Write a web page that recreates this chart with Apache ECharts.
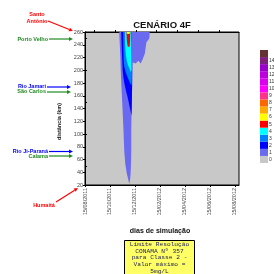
<!DOCTYPE html>
<html><head><meta charset="utf-8">
<script src="https://cdn.jsdelivr.net/npm/echarts@6/dist/echarts.min.js"></script>
<style>html,body{margin:0;padding:0;background:#fff}#c{width:274px;height:274px}</style>
</head><body><div id="c"></div>
<script>
// ---- data (x = days since 15/08/2011, y = distância km) ----
const dateLabels = ['15/08/2011','15/10/2011','15/12/2011','15/02/2012','15/04/2012','15/06/2012','15/08/2012'];
const colorLevels = [0,1,2,3,4,5,6,7,8,9,10,11,12,13,14,15];
const levelLabels = ['0','1','2','3','4','5','6','7','8','9','10','11','12','13','14',''];
const contourLevels = [1,2,3,4,5,6];
const contour1 = [[83.5,260],[86,225],[87.7,192],[91,148],[94,105],[95.8,74],[98.3,53],[102.4,37],[106,28],[108,21.5],[110,28],[111.3,37],[112.3,53],[113,74],[113,105],[114,148],[115.5,185],[116,200],[116.5,212],[124,210.5],[130,215],[136,210.5],[140,216],[146,226],[148,235],[150,244],[157,250],[158,260]];
const contour2 = [[88.4,260],[90,230],[92,200],[93.5,190],[96,180],[100,168],[104,158],[108,146],[111,137],[113.7,129],[114.3,145],[115,175],[115,200],[114.5,225],[113.6,260]];
const contour3 = [[93.3,260],[93.6,235],[94.5,215],[96,205],[99,198],[102,192],[106,186],[110,180],[113.5,176],[114.5,190],[114,215],[113.4,240],[113.2,260]];
const contour4 = [[97.5,260],[98,240],[99.5,225],[102,215],[105,208],[109,202],[112,197],[113.7,200],[113.6,220],[112.8,260]];
const contour5 = [[101.3,260],[101.8,250],[103,242],[104.5,237],[109,237],[110,245],[110.5,260]];
const contour6 = [[102,260],[102.3,258],[104,257],[108,257],[109.5,258.5],[110,260]];
const contours = [contour1, contour2, contour3, contour4, contour5, contour6];
const stationNames = ['Santo\nAntônio','Porto Velho','Rio Jamari','São Carlos','Rio Ji-Paraná','Calama','Humaitá'];
const noteLines = ['Limite Resolução','CONAMA Nº 357','para Classe 2 -','Valor máximo =','5mg/L'];

// ---- styles ----
const palette = ['#c8c8c8','#6a6af0','#0000ff','#0080ff','#00ffff','#ff0000','#ffff00','#ffaa00','#ff6600','#ff3388','#ff00ff','#dd00ee','#bb00dd','#9900cc','#7f1f7f','#663333'];
const stationColors = ['#ff0000','#1f8a1f','#0000ff','#1f8a1f','#0000ff','#1f8a1f','#ff0000'];

const chart = echarts.init(document.getElementById('c'), null, {renderer:'canvas'});
const seriesData = contours.map((c, i) => {
  const cx = c.reduce((s,p)=>s+p[0],0)/c.length, cy = c.reduce((s,p)=>s+p[1],0)/c.length;
  return [cx, cy, contourLevels[i]];
});

function arrow(x1,y1,x2,y2,color){
  const a = Math.atan2(y2-y1, x2-x1), L = 4, W = 2;
  const bx = x2 - L*Math.cos(a), by = y2 - L*Math.sin(a);
  return [
    {type:'line', silent:true, shape:{x1,y1,x2:bx,y2:by}, style:{stroke:color, lineWidth:1.2}},
    {type:'polygon', silent:true, shape:{points:[[x2,y2],[bx - W*Math.sin(a), by + W*Math.cos(a)],[bx + W*Math.sin(a), by - W*Math.cos(a)]]}, style:{fill:color}}
  ];
}
const lab = {fontFamily:'Liberation Sans, Arial', fontWeight:'bold', fontSize:5.5};
const stationLayout = [
  {tx:37, ty:17.5, align:'center', a:[48,21,73,31]},
  {tx:48, ty:39, align:'right', a:[49,39,73,39]},
  {tx:46, ty:86, align:'right', a:[47,87,71,87]},
  {tx:46, ty:91.5, align:'right', a:[47,92,71,92]},
  {tx:48, ty:151, align:'right', a:[49,151.5,73,151.5]},
  {tx:48, ty:156, align:'right', a:[49,156,73,156]},
  {tx:44, ty:205, align:'center', a:[56,202,78,188]}
];
const graphics = [];
stationNames.forEach((n,i)=>{
  const L = stationLayout[i];
  graphics.push({type:'text', silent:true, style:Object.assign({text:n, x:L.tx, y:L.ty, textAlign:L.align, textVerticalAlign:'middle', fill:stationColors[i], lineHeight:7}, lab)});
  arrow(...L.a, stationColors[i]).forEach(g=>graphics.push(g));
});
graphics.push({type:'text', silent:true, style:{text:'CENÁRIO 4F', x:162, y:25.5, textAlign:'center', textVerticalAlign:'middle', fontFamily:'Liberation Sans, Arial', fontWeight:'bold', fontSize:9.5, fill:'#111'}});
graphics.push({type:'text', silent:true, style:{text:'dias de simulação', x:160, y:231.5, textAlign:'center', textVerticalAlign:'middle', fontFamily:'Liberation Sans, Arial', fontWeight:'bold', fontSize:7, fill:'#111'}});
graphics.push({type:'text', silent:true, rotation:Math.PI/2, x:59.5, y:121.5, style:{text:'distância (km)', x:0, y:0, textAlign:'center', textVerticalAlign:'middle', fontFamily:'Liberation Sans, Arial', fontWeight:'bold', fontSize:5.5, fill:'#111'}});
graphics.push({type:'rect', silent:true, shape:{x:124.5, y:240.5, width:70, height:40}, style:{fill:'#ffff66', stroke:'#000', lineWidth:1}});
graphics.push({type:'text', silent:true, style:{text:noteLines.join('\n'), x:159.5, y:241.2, textAlign:'center', textVerticalAlign:'top', fontFamily:'Liberation Mono, Courier New, monospace', fontSize:6.2, lineHeight:6.6, fill:'#1a1a55'}});

const axLbl = {fontSize:5.5, color:'#444', fontFamily:'Liberation Sans, Arial'};
chart.setOption({
  animation:false,
  grid:[
    {left:85, top:32, width:154, height:153, show:true, backgroundColor:'#c8c8c8', borderColor:'#000', borderWidth:1, outerBoundsMode:'none', containLabel:false},
    {left:260, top:50, width:8, height:113, show:false, outerBoundsMode:'none', containLabel:false}
  ],
  xAxis:[
    {type:'value', gridIndex:0, min:0, max:376, interval:61, position:'bottom',
     axisLine:{lineStyle:{color:'#000', width:1}}, axisTick:{show:true, length:2, lineStyle:{color:'#000'}},
     splitLine:{show:false},
     axisLabel:Object.assign({rotate:90, margin:3, showMaxLabel:false, formatter:v => (v % 61 === 0 ? (dateLabels[v/61] || '') : '')}, axLbl)},
    {type:'value', gridIndex:0, min:0, max:376, position:'top',
     axisLine:{lineStyle:{color:'#000', width:1}}, axisTick:{show:true, length:2, customValues:[22,73,124,175,226,277,328], lineStyle:{color:'#000'}},
     axisLabel:{show:false}, splitLine:{show:false}},
    {type:'value', gridIndex:1, min:0, max:1, show:false}
  ],
  yAxis:[
    {type:'value', gridIndex:0, min:20, max:260, interval:20,
     axisLine:{show:true, lineStyle:{color:'#000', width:1}}, axisTick:{show:true, length:2, lineStyle:{color:'#000'}},
     splitLine:{show:false}, axisLabel:Object.assign({margin:2}, axLbl)},
    {type:'value', gridIndex:0, min:20, max:260, position:'right',
     axisLine:{show:true, lineStyle:{color:'#000', width:1}}, axisTick:{show:true, length:2, customValues:[50,100,150,200,250], lineStyle:{color:'#000'}},
     axisLabel:{show:false}, splitLine:{show:false}},
    {type:'category', gridIndex:1, position:'right', data:levelLabels,
     axisLine:{show:false}, axisTick:{show:false}, splitLine:{show:false},
     axisLabel:{interval:0, margin:1, fontSize:5, color:'#333', fontFamily:'Liberation Sans, Arial', padding:[2,0,0,0]}}
  ],
  series:[{
    type:'custom', coordinateSystem:'cartesian2d', xAxisIndex:0, yAxisIndex:0, silent:true, clip:true,
    data:seriesData,
    renderItem:(params, api) => {
      const pts = contours[params.dataIndex].map(p => api.coord(p));
      return {type:'polygon', shape:{points:pts}, style:{fill:palette[api.value(2)]}};
    }
  },{
    type:'bar', xAxisIndex:2, yAxisIndex:2, silent:true, barWidth:'100%', barCategoryGap:0,
    data:colorLevels.map((v,i)=>({value:1, itemStyle:{color:palette[i]}}))
  }],
  graphic:graphics
});
</script></body></html>
